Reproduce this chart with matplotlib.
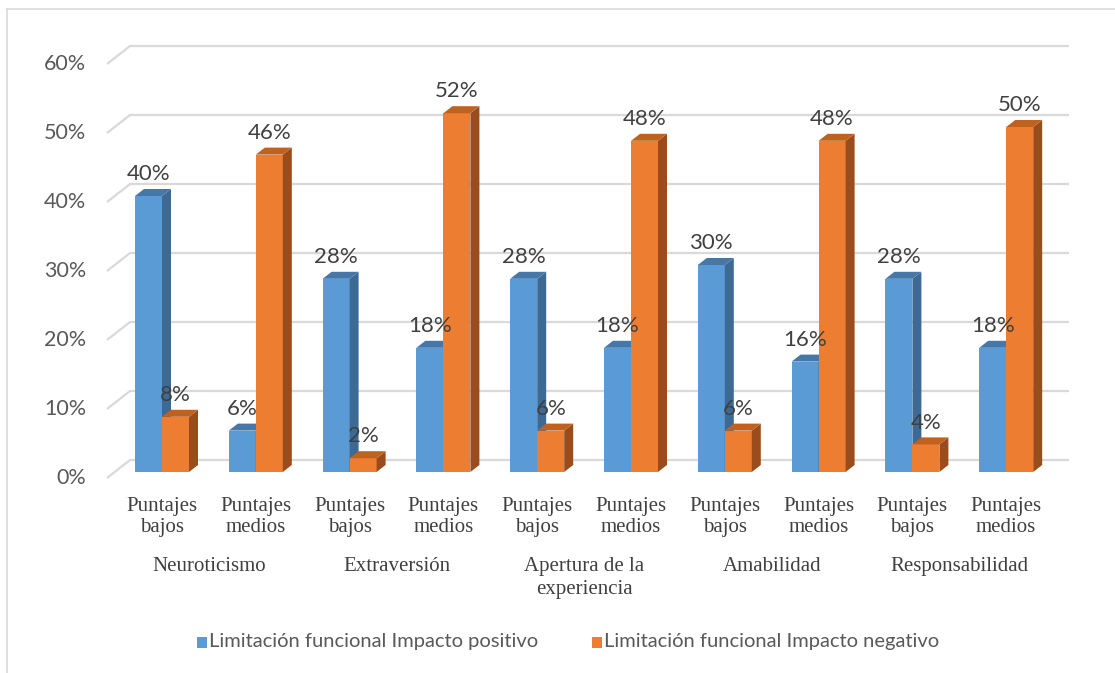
import numpy as np
import matplotlib.pyplot as plt
from matplotlib.patches import Polygon, Rectangle

# datos
grupos = ['Neuroticismo', 'Extraversión', 'Apertura de la\nexperiencia', 'Amabilidad', 'Responsabilidad']
niveles = ['Puntajes\nbajos', 'Puntajes\nmedios']
positivo = [40, 6, 28, 18, 28, 18, 30, 16, 28, 18]
negativo = [8, 46, 2, 52, 6, 48, 6, 48, 4, 50]
yticks = [0, 10, 20, 30, 40, 50, 60]
serie_pos = 'Limitación funcional Impacto positivo'
serie_neg = 'Limitación funcional Impacto negativo'

# colores (frente, lado, arriba)
azul = ('#5B9BD5', '#3D6A95', '#4677A8')
naranja = ('#ED7D31', '#9A4C1C', '#C0621F')

W, H = 1115, 673
fig = plt.figure(figsize=(W / 100, H / 100), dpi=100)
ax = fig.add_axes([0, 0, 1, 1])

# escala: una categoria = 93.8 px, 1% = 6.9 px, base de barras en y=472 px
px_cat = 93.8
px_pct = 6.9
x0_px, y0_px = 162, 472
ax.set_xlim(-x0_px / px_cat, (W - x0_px) / px_cat)
ax.set_ylim(-(H - y0_px) / px_pct, y0_px / px_pct)
ax.axis('off')

ancho = 27 / px_cat          # ancho de cada barra
dx = 9 / px_cat              # profundidad
dy = 7 / px_pct
pared = 12 / px_pct          # desplazamiento de la pared del fondo
diag_x = 23 / px_cat
diag_y = 18 / px_pct

x = np.arange(len(positivo))

# lineas de la cuadricula con el borde lateral
xl = (130 - x0_px) / px_cat
xr = (1069 - x0_px) / px_cat
for t in yticks:
    yb = t + pared
    ax.plot([xl - diag_x, xl, xr], [yb - diag_y, yb, yb], color='#D9D9D9', lw=1.6,
            solid_capstyle='butt', zorder=1)
    ax.text(xl - diag_x - 21 / px_cat, yb - diag_y, f'{t}%', ha='right', va='center',
            fontsize=15.5, family='Lato', color='#595959')


def barra3d(xi, v, cols):
    fr, lado, arriba = cols
    ax.bar(xi, v, width=ancho, align='edge', color=fr, edgecolor='none', zorder=3)
    ax.add_patch(Polygon([(xi + ancho, 0), (xi + ancho + dx, dy), (xi + ancho + dx, v + dy),
                          (xi + ancho, v)], closed=True, color=lado, lw=0, zorder=3))
    ax.add_patch(Polygon([(xi, v), (xi + dx, v + dy), (xi + ancho + dx, v + dy),
                          (xi + ancho, v)], closed=True, color=arriba, lw=0, zorder=3))


for i in x:
    barra3d(i - ancho, positivo[i], azul)
    barra3d(i, negativo[i], naranja)
    ax.text(i - ancho / 2, positivo[i] + 1.7, f'{positivo[i]}%', ha='center', va='bottom',
            fontsize=16, family='Lato', color='#404040', zorder=5)
    ax.text(i + ancho / 2, negativo[i] + 1.7, f'{negativo[i]}%', ha='center', va='bottom',
            fontsize=16, family='Lato', color='#404040', zorder=5)
    ax.text(i, -(517 - y0_px) / px_pct, niveles[i % 2], ha='center', va='center',
            fontsize=15, family='Liberation Serif', color='#404040', linespacing=1.2)

for g, nombre in enumerate(grupos):
    ax.text(2 * g + 0.5, -(557 - y0_px) / px_pct, nombre, ha='center', va='top',
            fontsize=15, family='Liberation Serif', color='#404040', linespacing=1.3)

# leyenda
ly = -(642 - y0_px) / px_pct
for xpx, col, txt in [(197, azul[0], serie_pos), (592, naranja[0], serie_neg)]:
    xs = (xpx - x0_px) / px_cat
    ax.add_patch(Rectangle((xs, ly - 5.5 / px_pct), 10 / px_cat, 11 / px_pct, color=col, lw=0))
    ax.text(xs + 12 / px_cat, ly, txt, ha='left', va='center', fontsize=14.5,
            family='Lato', color='#595959')

# marco
ax.plot([(7 - x0_px) / px_cat] * 2, [ax.get_ylim()[0], (y0_px - 9) / px_pct], color='#D9D9D9', lw=1.2)
ax.plot([(7 - x0_px) / px_cat, ax.get_xlim()[1]], [(y0_px - 9) / px_pct] * 2, color='#D9D9D9', lw=1.2)

fig.savefig('out.png', dpi=100)
